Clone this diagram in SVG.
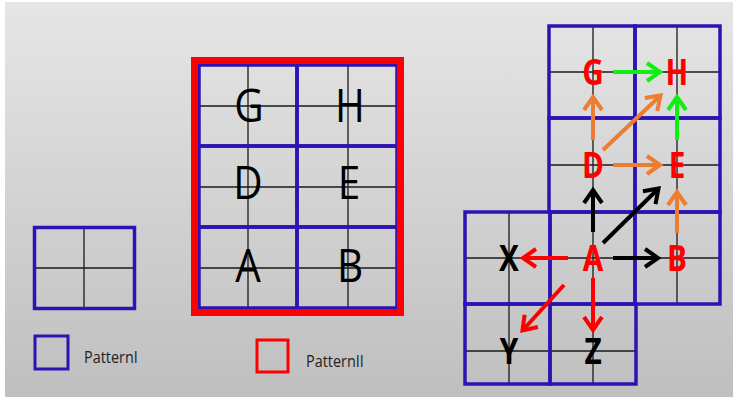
<svg xmlns="http://www.w3.org/2000/svg" width="733" height="397" viewBox="0 0 733 397">
<defs>
<linearGradient id="bg" x1="0" y1="0" x2="0" y2="1">
<stop offset="0" stop-color="#e6e6e6"/>
<stop offset="1" stop-color="#bfbfbf"/>
</linearGradient>
<marker id="mGreen" markerUnits="userSpaceOnUse" markerWidth="30" markerHeight="30" viewBox="-20 -15 30 30" refX="0" refY="0" orient="auto"><path d="M-13,-9 L0,0 L-13,9" fill="none" stroke="#11ee11" stroke-width="4"/></marker>
<marker id="mOrange" markerUnits="userSpaceOnUse" markerWidth="30" markerHeight="30" viewBox="-20 -15 30 30" refX="0" refY="0" orient="auto"><path d="M-13,-9 L0,0 L-13,9" fill="none" stroke="#ed7d31" stroke-width="4"/></marker>
<marker id="mBlack" markerUnits="userSpaceOnUse" markerWidth="30" markerHeight="30" viewBox="-20 -15 30 30" refX="0" refY="0" orient="auto"><path d="M-13,-9 L0,0 L-13,9" fill="none" stroke="#000" stroke-width="4"/></marker>
<marker id="mRed" markerUnits="userSpaceOnUse" markerWidth="30" markerHeight="30" viewBox="-20 -15 30 30" refX="0" refY="0" orient="auto"><path d="M-13,-9 L0,0 L-13,9" fill="none" stroke="#ff0000" stroke-width="4"/></marker>
</defs>
<style>
.blue{fill:none;stroke:#2a14b4;stroke-width:3.5}
.thin{stroke:#1a1a1a;stroke-width:1.3}
.big{font-family:"Open Sans","Noto Sans",sans-serif;font-size:46px;fill:#000;text-anchor:middle}
.bold{font-family:"Open Sans","Noto Sans",sans-serif;font-size:35px;font-weight:bold;text-anchor:middle}
.red{fill:#ff0000}
.blk{fill:#000}
.leg{font-family:"Open Sans","Noto Sans",sans-serif;font-size:16px;fill:#222}
.arr{stroke-width:4;fill:none}
</style>
<rect x="5" y="2" width="728" height="395" fill="url(#bg)"/>

<g id="patternI">
<line class="thin" x1="84" y1="227" x2="84" y2="309"/>
<line class="thin" x1="34" y1="268" x2="135" y2="268"/>
<rect class="blue" x="34.5" y="227.5" width="100" height="81"/>
</g>

<g id="legendI">
<rect x="35" y="336" width="33" height="33" fill="none" stroke="#2a14b4" stroke-width="3"/>
<text class="leg" transform="translate(84,363) scale(0.9,1)">PatternI</text>
</g>

<g id="patternII">
<g class="thin">
<line x1="248" y1="65" x2="248" y2="308"/>
<line x1="348" y1="65" x2="348" y2="308"/>
<line x1="199" y1="106" x2="397" y2="106"/>
<line x1="199" y1="187" x2="397" y2="187"/>
<line x1="199" y1="268" x2="397" y2="268"/>
</g>
<rect class="blue" x="199" y="65" width="98" height="81"/>
<rect class="blue" x="297" y="65" width="100" height="81"/>
<rect class="blue" x="199" y="146" width="98" height="81"/>
<rect class="blue" x="297" y="146" width="100" height="81"/>
<rect class="blue" x="199" y="227" width="98" height="81"/>
<rect class="blue" x="297" y="227" width="100" height="81"/>
<rect x="194.5" y="60.5" width="206" height="252" fill="none" stroke="#ff0000" stroke-width="7"/>
<text class="big" transform="translate(249,122) scale(0.88,1)">G</text>
<text class="big" transform="translate(350,122) scale(0.88,1)">H</text>
<text class="big" transform="translate(248,199) scale(0.88,1)">D</text>
<text class="big" transform="translate(349,199) scale(0.88,1)">E</text>
<text class="big" transform="translate(248,282) scale(0.88,1)">A</text>
<text class="big" transform="translate(350,282) scale(0.88,1)">B</text>
</g>

<g id="legendII">
<rect x="257" y="340" width="31" height="32" fill="none" stroke="#ff0000" stroke-width="3"/>
<text class="leg" transform="translate(306,367) scale(0.9,1)">PatternII</text>
</g>

<g id="grid">
<g class="thin">
<line x1="593" y1="26" x2="593" y2="212"/>
<line x1="677" y1="26" x2="677" y2="304"/>
<line x1="549" y1="72" x2="720" y2="72"/>
<line x1="549" y1="165" x2="720" y2="165"/>
<line x1="465" y1="258" x2="720" y2="258"/>
<line x1="509" y1="212" x2="509" y2="384"/>
<line x1="593" y1="212" x2="593" y2="384"/>
<line x1="465" y1="351" x2="636" y2="351"/>
</g>
<rect class="blue" x="549" y="26" width="86" height="92"/>
<rect class="blue" x="635" y="26" width="85" height="92"/>
<rect class="blue" x="549" y="118" width="86" height="94"/>
<rect class="blue" x="635" y="118" width="85" height="94"/>
<rect class="blue" x="465" y="212" width="85" height="92"/>
<rect class="blue" x="550" y="212" width="85" height="92"/>
<rect class="blue" x="635" y="212" width="85" height="92"/>
<rect class="blue" x="465" y="304" width="85" height="80"/>
<rect class="blue" x="550" y="304" width="86" height="80"/>
</g>

<g id="connectors">
<line class="arr" stroke="#11ee11" x1="613" y1="72" x2="660" y2="72" marker-end="url(#mGreen)"/>
<line class="arr" stroke="#11ee11" x1="677" y1="140" x2="677" y2="97" marker-end="url(#mGreen)"/>
<line class="arr" stroke="#ed7d31" x1="593" y1="140" x2="593" y2="97" marker-end="url(#mOrange)"/>
<line class="arr" stroke="#ed7d31" x1="603" y1="150" x2="660.5" y2="95.5" marker-end="url(#mOrange)"/>
<line class="arr" stroke="#ed7d31" x1="613" y1="165" x2="660" y2="165" marker-end="url(#mOrange)"/>
<line class="arr" stroke="#ed7d31" x1="677" y1="233" x2="677" y2="192" marker-end="url(#mOrange)"/>
<line class="arr" stroke="#000" x1="593" y1="232" x2="593" y2="190" marker-end="url(#mBlack)"/>
<line class="arr" stroke="#000" x1="603" y1="243" x2="658.5" y2="188.5" marker-end="url(#mBlack)"/>
<line class="arr" stroke="#000" x1="613" y1="258" x2="658" y2="258" marker-end="url(#mBlack)"/>
<line class="arr" stroke="#ff0000" x1="568" y1="258" x2="523" y2="258" marker-end="url(#mRed)"/>
<line class="arr" stroke="#ff0000" x1="564" y1="285" x2="522.5" y2="330.5" marker-end="url(#mRed)"/>
<line class="arr" stroke="#ff0000" x1="593" y1="278" x2="593" y2="330" marker-end="url(#mRed)"/>
</g>

<g id="nodeG"><text class="bold red" transform="translate(593,85) scale(0.85,1)">G</text></g>
<g id="nodeH"><text class="bold red" transform="translate(677,85) scale(0.85,1)">H</text></g>
<g id="nodeD"><text class="bold red" transform="translate(593,178) scale(0.85,1)">D</text></g>
<g id="nodeE"><text class="bold red" transform="translate(677,178) scale(0.85,1)">E</text></g>
<g id="nodeA"><text class="bold red" transform="translate(593,271) scale(0.85,1)">A</text></g>
<g id="nodeB"><text class="bold red" transform="translate(677,271) scale(0.85,1)">B</text></g>
<g id="nodeX"><text class="bold blk" transform="translate(509,271) scale(0.85,1)">X</text></g>
<g id="nodeY"><text class="bold blk" transform="translate(509,364) scale(0.85,1)">Y</text></g>
<g id="nodeZ"><text class="bold blk" transform="translate(593,364) scale(0.85,1)">Z</text></g>
</svg>
